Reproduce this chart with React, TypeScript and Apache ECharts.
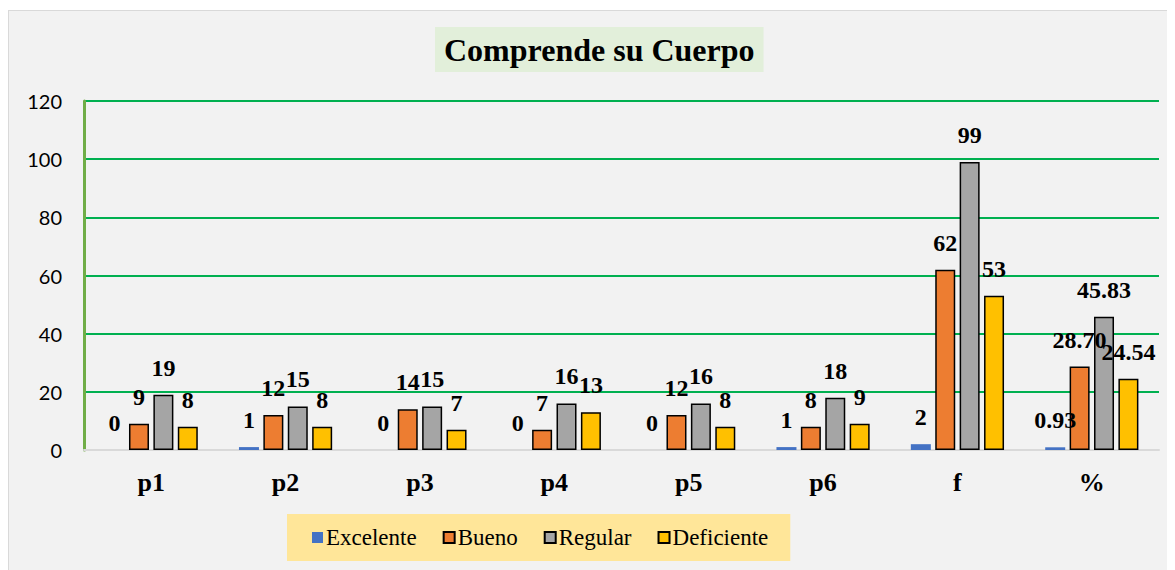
import React, { useEffect, useRef } from "react";
import * as echarts from "echarts";

const categories = ["p1", "p2", "p3", "p4", "p5", "p6", "f", "%"];
const excelente = [0, 1, 0, 0, 0, 1, 2, 0.93];
const bueno = [9, 12, 14, 7, 12, 8, 62, 28.7];
const regular = [19, 15, 15, 16, 16, 18, 99, 45.83];
const deficiente = [8, 8, 7, 13, 8, 9, 53, 24.54];
const seriesNames = ["Excelente", "Bueno", "Regular", "Deficiente"];
const colors = ["#4472c4", "#ed7d31", "#a5a5a5", "#ffc000"];
const yTicks = { min: 0, max: 120, interval: 20 };

const SERIF = "Liberation Serif";

export default function App() {
  const ref = useRef<HTMLDivElement>(null);
  useEffect(() => {
    if (!ref.current) return;
    const chart = echarts.init(ref.current, undefined, { renderer: "svg" });
    const values = [excelente, bueno, regular, deficiente];
    const labelFmt = (p: any) =>
      p.dataIndex === categories.length - 1 ? Number(p.value).toFixed(2) : String(p.value);
    chart.setOption({
      animation: false,
      backgroundColor: "#f2f2f2",
      title: {
        text: "Comprende su Cuerpo",
        left: 426,
        top: 16,
        backgroundColor: "#e2efda",
        padding: [7, 9, 6, 9],
        textStyle: {
          fontFamily: SERIF,
          fontWeight: "bold",
          fontSize: 32,
          color: "#000",
        },
      },
      legend: {
        left: 278,
        top: 503,
        backgroundColor: "#ffe699",
        padding: [12, 22, 12, 25],
        itemWidth: 11,
        itemHeight: 11,
        itemGap: 26,
        icon: "rect",
        textStyle: {
          fontFamily: SERIF,
          fontSize: 23,
          color: "#000",
          padding: [0, 0, 0, -2],
        },
        data: seriesNames,
      },
      grid: { left: 75, right: 16, top: 90, bottom: 120 },
      xAxis: {
        type: "category",
        data: categories,
        axisLine: { lineStyle: { color: "#d9d9d9", width: 2 } },
        axisTick: { show: false },
        axisLabel: {
          margin: 19,
          fontFamily: SERIF,
          fontWeight: "bold",
          fontSize: 26,
          color: "#000",
        },
      },
      yAxis: {
        type: "value",
        min: yTicks.min,
        max: yTicks.max,
        interval: yTicks.interval,
        axisLine: { show: true, lineStyle: { color: "#70ad47", width: 3 } },
        axisTick: { show: false },
        splitLine: { lineStyle: { color: "#00b050", width: 2 } },
        axisLabel: {
          margin: 22,
          fontFamily: "Lato",
          fontSize: 20,
          color: "#000",
        },
      },
      series: seriesNames.map((name, i) => ({
        name,
        type: "bar",
        data: values[i],
        barWidth: 20,
        barGap: "22%",
        itemStyle: {
          color: colors[i],
          borderColor: i === 0 ? colors[i] : "#000",
          borderWidth: i === 0 ? 0 : 1.5,
        },
        label: {
          show: true,
          position: "top",
          distance: 15,
          formatter: labelFmt,
          fontFamily: SERIF,
          fontWeight: "bold",
          fontSize: 24,
          color: "#000",
        },
      })),
    });
    return () => chart.dispose();
  }, []);
  return (
    <div
      style={{
        marginTop: 2,
        borderLeft: "1px solid #d9d9d9",
        borderTop: "1px solid #d9d9d9",
        width: 1166,
        height: 559,
      }}
    >
      <div ref={ref} style={{ width: 1166, height: 559 }} />
    </div>
  );
}
